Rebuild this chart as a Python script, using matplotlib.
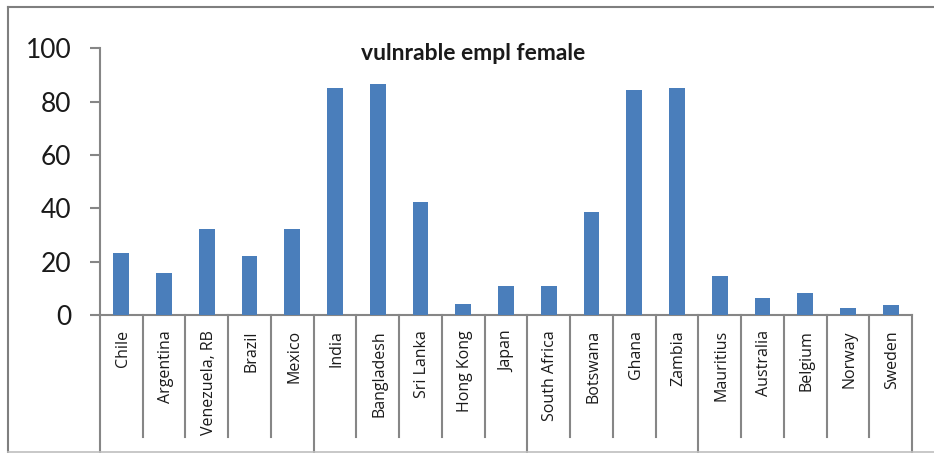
import matplotlib
matplotlib.use("Agg")
import matplotlib.pyplot as plt
from matplotlib.lines import Line2D

countries = ["Chile", "Argentina", "Venezuela, RB", "Brazil", "Mexico",
             "India", "Bangladesh", "Sri Lanka", "Hong Kong", "Japan",
             "South Africa", "Botswana", "Ghana", "Zambia",
             "Mauritius", "Australia", "Belgium", "Norway", "Sweden"]
values = [23.1, 15.9, 32.1, 22.1, 32.1,
          85.0, 86.5, 42.5, 4.1, 10.9,
          10.9, 38.7, 84.4, 85.0,
          14.7, 6.5, 8.1, 2.5, 3.8]
group_sizes = [5, 5, 4, 5]
title = "vulnrable empl female"
yticks = [0, 20, 40, 60, 80, 100]

W, H = 934, 453
fig = plt.figure(figsize=(W / 100, H / 100), dpi=100)
plt.rcParams['font.family'] = ['Lato', 'DejaVu Sans']

x0, x1 = 100, 912
y0, y1 = 315, 48.3
ax = fig.add_axes([x0 / W, (H - y0) / H, (x1 - x0) / W, (y0 - y1) / H])

n = len(countries)
xs = list(range(n))
ax.bar(xs, values, width=0.37, color="#4a7ebb", zorder=3)
ax.set_xlim(-0.5, n - 0.5)
ax.set_ylim(0, 100)

grey = "#868686"
for s in ["top", "right"]:
    ax.spines[s].set_visible(False)
for s in ["left", "bottom"]:
    ax.spines[s].set_color(grey)
    ax.spines[s].set_linewidth(1.5)
ax.set_yticks(yticks)
ax.set_yticklabels([str(v) for v in yticks], fontsize=19, color="#1a1a1a")
ax.tick_params(axis="y", length=7, width=1.5, color=grey, pad=13.5)
ax.set_xticks([])

# category labels
trans = ax.get_xaxis_transform()
ph = y0 - y1
for i, c in enumerate(countries):
    ax.text(i + 0.04, -15 / ph, c, rotation=90, ha="center", va="top",
            fontsize=11.5, color="#1a1a1a", transform=trans, clip_on=False,
            family=['Open Sans', 'DejaVu Sans'])

# category separators (short) and group separators (long)
bounds = {0}
acc = 0
for g in group_sizes:
    acc += g
    bounds.add(acc)
for b in range(n + 1):
    xb = b - 0.5
    ybot = (y0 - 453) / ph if b in bounds else (y0 - 437) / ph
    ax.add_line(Line2D([xb, xb], [0, ybot], transform=trans, color=grey,
                       lw=1.5, clip_on=False))

# title
fig.text(473 / W, 1 - 53 / H, title, ha="center", va="center",
         fontsize=16.5, fontweight="bold", color="#1a1a1a")

# outer border
fig.add_artist(Line2D([8 / W, 8 / W], [0, 1 - 7 / H], transform=fig.transFigure,
                      color="#7f7f7f", lw=1.5))
fig.add_artist(Line2D([8 / W, 1], [1 - 7 / H, 1 - 7 / H], transform=fig.transFigure,
                      color="#7f7f7f", lw=1.5))
fig.add_artist(Line2D([8 / W, 1], [1 / H, 1 / H], transform=fig.transFigure,
                      color="#bfbfbf", lw=1.2))

fig.savefig("out.png", dpi=100, facecolor="white")
